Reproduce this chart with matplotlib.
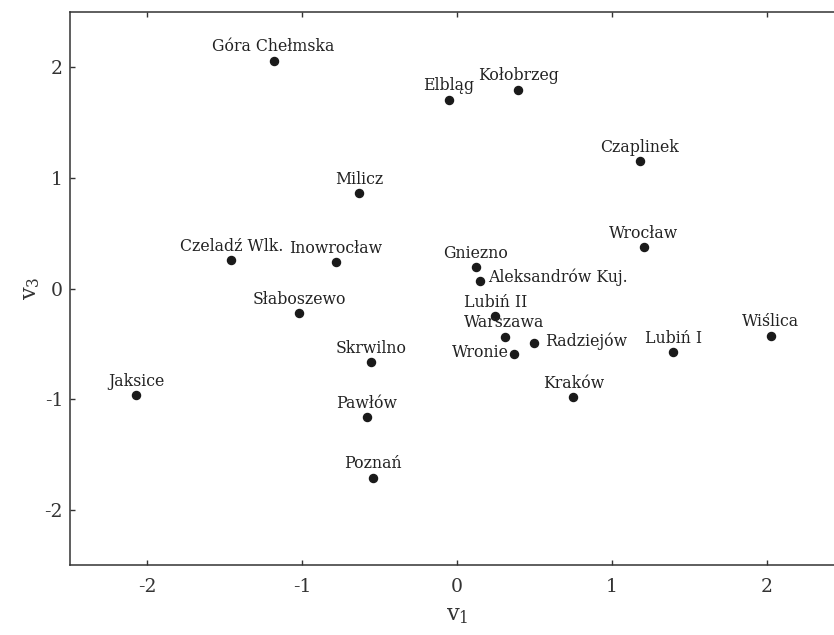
import numpy as np
import matplotlib
matplotlib.use("Agg")
import matplotlib.pyplot as plt

plt.rcParams['font.family'] = ['DejaVu Serif']
plt.rcParams['mathtext.default'] = 'regular'
plt.rcParams['axes.unicode_minus'] = False

# Data
cities = ['Góra Chełmska', 'Milicz', 'Czeladź Wlk.', 'Inowrocław', 'Słaboszewo',
          'Elbląg', 'Kołobrzeg', 'Czaplinek', 'Wrocław', 'Gniezno',
          'Aleksandrów Kuj.', 'Lubiń II', 'Warszawa', 'Radziejów', 'Wronie',
          'Lubiń I', 'Wiślica', 'Kraków', 'Jaksice', 'Skrwilno', 'Pawłów', 'Poznań']
v1 = [-1.185, -0.632, -1.459, -0.782, -1.021,
      -0.052, 0.394, 1.179, 1.205, 0.121,
      0.147, 0.246, 0.306, 0.498, 0.366,
      1.396, 2.025, 0.750, -2.071, -0.554, -0.582, -0.543]
v3 = [2.06, 0.859, 0.255, 0.237, -0.225,
      1.705, 1.793, 1.150, 0.372, 0.192,
      0.069, -0.252, -0.438, -0.492, -0.595,
      -0.577, -0.426, -0.985, -0.967, -0.667, -1.165, -1.709]

# label placement: default is centred above the point
side_labels = {
    'Aleksandrów Kuj.': ((6, -1), 'left'),
    'Radziejów': ((8, -2), 'left'),
    'Wronie': ((-3.5, -2), 'right'),
}

fig = plt.figure(figsize=(8.34, 6.35), dpi=100)
ax = fig.add_axes([70 / 834, 1 - 565 / 635, 1 - 70 / 834, (565 - 12) / 635])

ax.plot(v1, v3, 'o', color='#1a1a1a', markersize=5.8, zorder=3)

for name, x, y in zip(cities, v1, v3):
    if name in side_labels:
        off, ha = side_labels[name]
    else:
        off, ha = (0, 7), 'center'
    ax.annotate(name, (x, y), xytext=off, textcoords='offset points',
                ha=ha, va='baseline', fontsize=11.3, color='#222222')

ax.set_xlim(-2.5, 2.433)
ax.set_ylim(-2.5, 2.5)
ax.set_xticks([-2, -1, 0, 1, 2])
ax.set_yticks([-2, -1, 0, 1, 2])

for s in ['left', 'top', 'bottom']:
    ax.spines[s].set_color('#333333')
    ax.spines[s].set_linewidth(1.1)
ax.spines['right'].set_visible(False)

ax.tick_params(axis='x', direction='in', top=True, length=3.6, width=1,
               color='#333333', labelsize=13.5, labelcolor='#333333', pad=9)
ax.tick_params(axis='y', direction='in', right=False, length=3.6, width=1,
               color='#333333', labelsize=13.5, labelcolor='#333333', pad=5)

ax.set_xlabel('$v_1$', fontsize=16, color='#333333', labelpad=6)
ax.xaxis.label.set_x((0 + 2.5) / (2.433 + 2.5))
ax.set_ylabel('$v_3$', fontsize=16, color='#333333', labelpad=2)

fig.savefig('out.png', dpi=100)
